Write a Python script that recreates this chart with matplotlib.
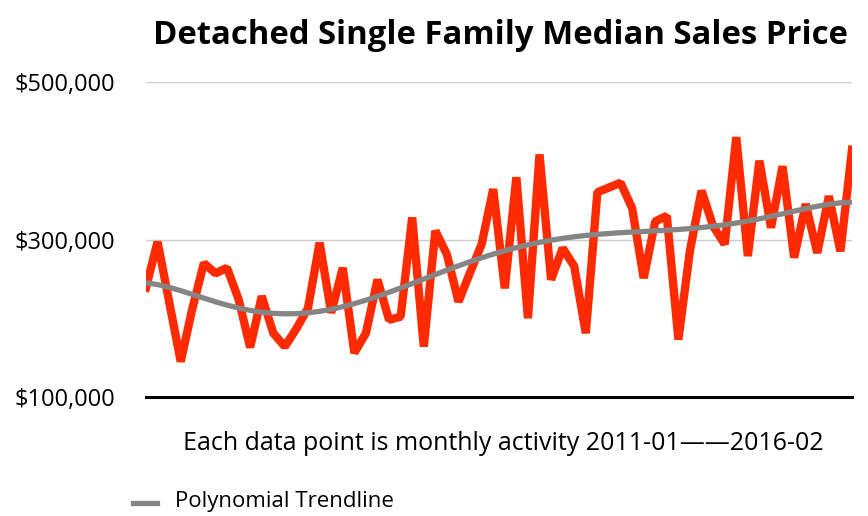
import numpy as np
import matplotlib
matplotlib.use("Agg")
import matplotlib.pyplot as plt
from matplotlib.ticker import FuncFormatter

# monthly median sales price, 2011-01 .. 2016-02
months = list(range(62))
prices = [239, 297, 221, 145, 212, 270, 257, 264, 224, 163,
          228, 181, 164, 187, 213, 296, 207, 264, 156, 181,
          249, 198, 202, 328, 164, 311, 281, 221, 258, 294,
          364, 238, 379, 200, 408, 249, 289, 266, 181, 360,
          366, 372, 340, 251, 323, 330, 173, 286, 362, 317,
          294, 430, 279, 400, 315, 393, 277, 345, 283, 355,
          285, 414]
prices = [p * 1000 for p in prices]
yticks = [100000, 300000, 500000]

plt.rcParams['font.family'] = ['Open Sans', 'DejaVu Sans']

fig = plt.figure(figsize=(8.68, 5.16), dpi=100)
ax = fig.add_axes([146/868, 1 - 397/516, (852-146)/868, (397-82)/516])

x = np.array(months)
coef = np.polyfit(x, prices, 6)
trend = np.polyval(coef, x)

ax.plot(x, prices, color='#ff2a00', lw=6, solid_joinstyle='bevel', zorder=3)
ax.plot(x, trend, color='#858585', lw=3.8, solid_capstyle='butt', zorder=4)

ax.set_xlim(0, len(months) - 1)
ax.set_ylim(100000, 500000)
ax.set_yticks(yticks)
ax.yaxis.set_major_formatter(FuncFormatter(lambda v, p: f"${v:,.0f}"))
ax.set_xticks([])
for s in ax.spines.values():
    s.set_visible(False)
ax.tick_params(axis='y', length=0, labelsize=17, pad=22)
ax.grid(axis='y', color='#cccccc', lw=1)
ax.axhline(100000, color='black', lw=2.2, zorder=5, clip_on=False)

fig.text(500/868, 1 - 35/516, "Detached Single Family Median Sales Price",
         ha='center', va='center', fontsize=23.7, fontweight='bold')
fig.text(503/868, 1 - 443/516, "Each data point is monthly activity 2011-01\u2014\u20142016-02",
         ha='center', va='center', fontsize=18)
fig.lines.append(plt.Line2D([133/868, 157/868], [1 - 503/516, 1 - 503/516],
                            color='#858585', lw=3.8, transform=fig.transFigure))
fig.text(175/868, 1 - 502/516, "Polynomial Trendline", ha='left', va='center', fontsize=16)

fig.savefig("out.png", dpi=100)
